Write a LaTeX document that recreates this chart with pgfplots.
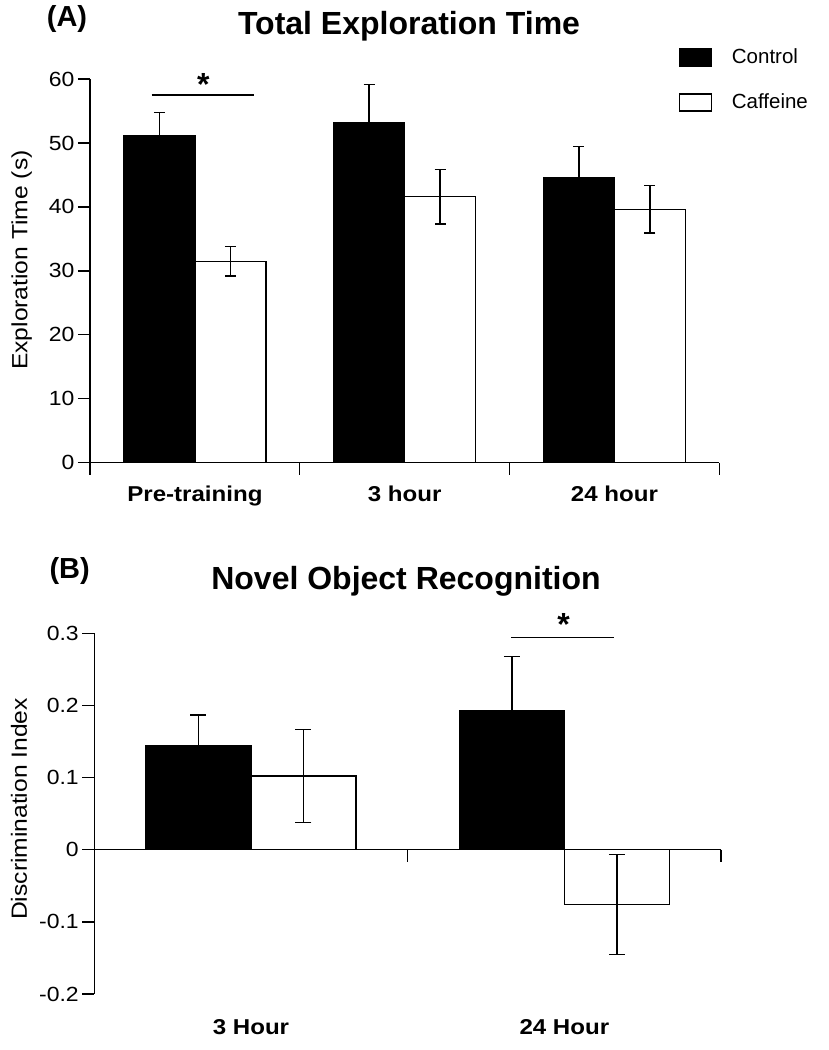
\documentclass[border=0pt]{standalone}
\usepackage{fontspec}
\setmainfont{Liberation Sans}
\newfontfamily\widefont[FakeStretch=1.12]{Liberation Sans}
\usepackage{pgfplots}
\pgfplotsset{compat=1.18}
\begin{document}
\begin{tikzpicture}[x=1pt,y=1pt]
\path[use as bounding box] (0,0) rectangle (828,1050);

% ---------- Panel A ----------
\begin{axis}[
  at={(90pt,587.3pt)}, anchor=south west,
  scale only axis, width=629.3pt, height=383.7pt,
  xmin=-0.5, xmax=2.5, ymin=0, ymax=60,
  axis lines*=left,
  axis line style={line width=1.4pt},
  tick align=outside, major tick length=12pt,
  tick style={line width=1.4pt, black},
  xtick={-0.5,0.5,1.5,2.5},
  xticklabels={Pre-training,3 hour,24 hour,{}},
  x tick label style={xshift=104.9pt, yshift=-8pt, font=\widefont\bfseries\fontsize{21.5}{24}\selectfont},
  ytick={0,10,20,30,40,50,60},
  yticklabels={0,10,20,30,40,50,60},
  y tick label style={font=\widefont\fontsize{20.5}{22}\selectfont},
  ylabel={Exploration Time (s)},
  ylabel style={at={(axis description cs:-0.1085,0.528)}, anchor=center, font=\widefont\fontsize{22}{24}\selectfont},
  ybar=0pt, bar width=71pt,
  clip=false,
]
\addplot[fill=black, draw=black, line width=1.4pt,
  error bars/.cd, y dir=both, y explicit,
  error bar style={line width=1.4pt, black},
  error mark options={rotate=90, mark size=5.5pt, line width=1.4pt, black}]
  coordinates {(0,51.1) +- (0,3.7) (1,53.2) +- (0,5.9) (2,44.6) +- (0,4.8)};
\addplot[fill=white, draw=black, line width=1.4pt,
  error bars/.cd, y dir=both, y explicit,
  error bar style={line width=1.4pt, black},
  error mark options={rotate=90, mark size=5.5pt, line width=1.4pt, black}]
  coordinates {(0,31.5) +- (0,2.3) (1,41.6) +- (0,4.25) (2,39.6) +- (0,3.7)};
\draw[line width=1.4pt] (axis cs:-0.206,57.5) -- (axis cs:0.282,57.5);
\node[font=\bfseries\fontsize{32}{36}\selectfont, inner sep=0pt] at (axis cs:0.04,59.2) {*};
\end{axis}

% ---------- Panel B ----------
\begin{axis}[
  at={(94.3pt,56pt)}, anchor=south west,
  scale only axis, width=626.7pt, height=360.7pt,
  xmin=-0.5, xmax=1.5, ymin=-0.2, ymax=0.3,
  axis lines*=left,
  axis line style={line width=1.4pt},
  x axis line style={draw=none},
  tick align=outside, major tick length=12pt,
  tick style={line width=1.4pt, black},
  xtick={0,1},
  xticklabels={3 Hour,24 Hour},
  xtick style={draw=none},
  x tick label style={yshift=-10pt, font=\widefont\bfseries\fontsize{21.5}{24}\selectfont},
  ytick={-0.2,-0.1,0,0.1,0.2,0.3},
  yticklabels={-0.2,-0.1,0,0.1,0.2,0.3},
  y tick label style={font=\widefont\fontsize{20.5}{22}\selectfont},
  ylabel={Discrimination Index},
  ylabel style={at={(axis description cs:-0.120,0.513)}, anchor=center, font=\widefont\fontsize{22}{24}\selectfont},
  ybar=0pt, bar width=105pt,
  clip=false,
]
\addplot[fill=black, draw=black, line width=1.4pt,
  error bars/.cd, y dir=both, y explicit,
  error bar style={line width=1.4pt, black},
  error mark options={rotate=90, mark size=8pt, line width=1.4pt, black}]
  coordinates {(0,0.144) +- (0,0.043) (1,0.193) +- (0,0.075)};
\addplot[fill=white, draw=black, line width=1.4pt,
  error bars/.cd, y dir=both, y explicit,
  error bar style={line width=1.4pt, black},
  error mark options={rotate=90, mark size=8pt, line width=1.4pt, black}]
  coordinates {(0,0.102) +- (0,0.0645) (1,-0.076) +- (0,0.0695)};
\draw[line width=1.4pt] (axis cs:-0.5,0) -- (axis cs:1.5,0);
\draw[line width=1.4pt] (axis cs:0.5,0) -- ++(0pt,-12pt);
\draw[line width=1.4pt] (axis cs:1.5,0) -- ++(0pt,-12pt);
\draw[line width=1.4pt] (axis cs:0.83,0.294) -- (axis cs:1.158,0.294);
\node[font=\bfseries\fontsize{32}{36}\selectfont, inner sep=0pt] at (axis cs:0.998,0.312) {*};
\end{axis}

% ---------- Titles, panel letters, legend ----------
\node[font=\bfseries\fontsize{32}{36}\selectfont, anchor=base, inner sep=0pt] at (409,1015) {Total Exploration Time};
\node[font=\bfseries\fontsize{32}{36}\selectfont, anchor=base, inner sep=0pt] at (406,460) {Novel Object Recognition};
\node[font=\bfseries\fontsize{29}{32}\selectfont, anchor=base west, inner sep=0pt] at (46.7,1023) {(A)};
\node[font=\bfseries\fontsize{29}{32}\selectfont, anchor=base west, inner sep=0pt] at (49.3,471) {(B)};

\filldraw[line width=1.4pt, fill=black, draw=black] (679.3,983.3) rectangle (711.7,1001.7);
\draw[line width=1.4pt, fill=white] (679.3,939) rectangle (711.7,956);
\node[font=\fontsize{20.5}{24}\selectfont, anchor=base west, inner sep=0pt] at (731.7,986) {Control};
\node[font=\fontsize{20.5}{24}\selectfont, anchor=base west, inner sep=0pt] at (731.7,941) {Caffeine};
\end{tikzpicture}
\end{document}
